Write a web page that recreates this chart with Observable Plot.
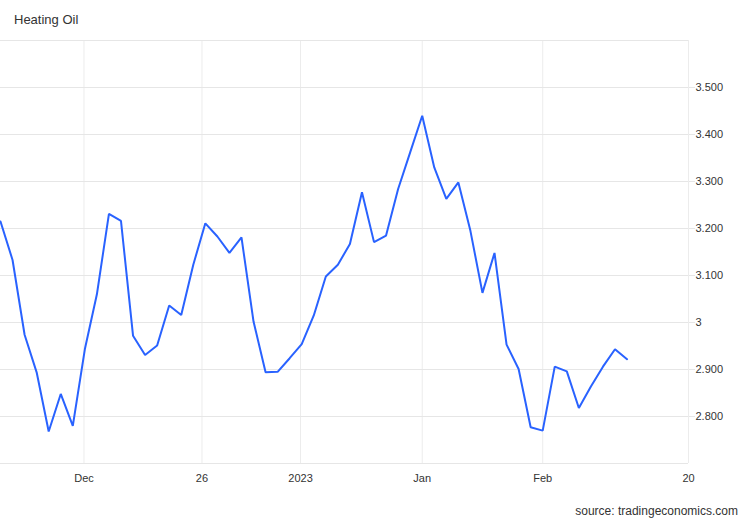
<!DOCTYPE html>
<html>
<head>
<meta charset="utf-8">
<script src="https://cdn.jsdelivr.net/npm/d3@7"></script>
<script src="https://cdn.jsdelivr.net/npm/@observablehq/plot@0.6"></script>
<style>
  html, body { margin: 0; padding: 0; background: #fff; }
  #wrap { position: relative; width: 750px; height: 520px; font-family: "Liberation Sans", Arial, sans-serif; }
  #title { position: absolute; left: 14px; top: 12px; font-size: 13px; color: #333; }
  #source { position: absolute; right: 12px; top: 504px; font-size: 12px; color: #333; }
  #chart { position: absolute; left: 0; top: 0; }
</style>
</head>
<body>
<div id="wrap">
  <div id="chart"></div>
  <div id="title">Heating Oil</div>
  <div id="source">source: tradingeconomics.com</div>
</div>
<script>
// Heating oil price series (USD/gal), one value per trading session
const prices = [
  3.215, 3.133, 2.974, 2.894, 2.768, 2.848, 2.780, 2.943, 3.060, 3.231,
  3.216, 2.972, 2.931, 2.951, 3.036, 3.016, 3.123, 3.211, 3.183, 3.148,
  3.181, 3.002, 2.894, 2.895, 2.924, 2.954, 3.015, 3.098, 3.123, 3.167,
  3.277, 3.171, 3.185, 3.284, 3.362, 3.440, 3.330, 3.263, 3.298, 3.195,
  3.063, 3.148, 2.953, 2.901, 2.777, 2.770, 2.906, 2.896, 2.818, 2.864,
  2.906, 2.943, 2.922
];
// x-axis tick labels and where they fall along the session index
const xTickLabels = ["Dec", "26", "2023", "Jan", "Feb", "20"];
const xTickIndex = [6.93, 16.72, 24.9, 35, 45, 57.1];
// y-axis ticks
const yTicks = [2.8, 2.9, 3.0, 3.1, 3.2, 3.3, 3.4, 3.5];
const yGrid = [2.7, 2.8, 2.9, 3.0, 3.1, 3.2, 3.3, 3.4, 3.5, 3.6];
const yDomain = [2.7, 3.6];

const data = prices.map((v, i) => ({i, v}));
const tickMap = new Map(xTickIndex.map((p, k) => [p, xTickLabels[k]]));

const fmtY = v => Math.abs(v - 3) < 1e-9 ? "3" : v.toFixed(3);

const chart = Plot.plot({
  width: 750,
  height: 520,
  marginTop: 40,
  marginBottom: 57,
  marginLeft: 0,
  marginRight: 62,
  style: {fontFamily: "'Liberation Sans', Arial, sans-serif", fontSize: "11px", color: "#333", background: "transparent"},
  x: {type: "linear", domain: [0, 57.1]},
  y: {domain: yDomain},
  marks: [
    Plot.ruleX(xTickIndex, {stroke: "#ececec", strokeWidth: 1, y1: yDomain[0], y2: yDomain[1]}),
    Plot.ruleY(yGrid, {stroke: "#e6e6e6", strokeWidth: 1}),
    Plot.axisY(yTicks, {anchor: "right", tickSize: 6, tickPadding: 1, stroke: "#e6e6e6", tickFormat: fmtY, fill: "#333", label: null}),
    Plot.axisX(xTickIndex, {anchor: "bottom", tickSize: 0, tickPadding: 11, tickFormat: d => tickMap.get(d), fill: "#333", label: null}),
    Plot.line(data, {x: "i", y: "v", stroke: "#2962ff", strokeWidth: 2, strokeLinejoin: "miter"})
  ]
});
document.getElementById("chart").appendChild(chart);
</script>
</body>
</html>
